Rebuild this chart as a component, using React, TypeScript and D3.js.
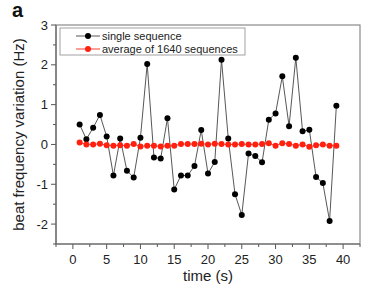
import React from "react";
import * as d3 from "d3";

const times = d3.range(1, 40);
const single = [
  0.5, 0.13, 0.42, 0.74, 0.2, -0.78, 0.15, -0.66, -0.83, 0.17,
  2.02, -0.33, -0.35, 0.66, -1.13, -0.78, -0.78, -0.54, 0.36, -0.73,
  -0.44, 2.13, 0.15, -1.25, -1.77, -0.23, -0.29, -0.45, 0.62, 0.78,
  1.71, 0.46, 2.18, 0.33, 0.37, -0.82, -0.97, -1.92, 0.97,
];
const average = [
  0.05, 0.0, 0.0, 0.02, -0.02, -0.03, -0.02, -0.03, 0.01, -0.05,
  -0.03, -0.03, -0.05, -0.03, -0.03, 0.01, 0.01, 0.01, 0.02, 0.0,
  0.02, 0.01, 0.0, 0.0, 0.01, 0.0, 0.0, 0.01, 0.03, -0.03,
  0.03, 0.01, -0.03, 0.0, -0.06, -0.02, 0.0, -0.03, -0.03,
];
const xTicks = [0, 5, 10, 15, 20, 25, 30, 35, 40];
const yTicks = [-2, -1, 0, 1, 2, 3];
const legendLabels = ["single sequence", "average of 1640 sequences"];

const font = "Arial, 'Liberation Sans', sans-serif";

export default function App() {
  const width = 382;
  const height = 295;
  const margin = { top: 25, right: 22, bottom: 51, left: 56 };
  const innerWidth = width - margin.left - margin.right;
  const innerHeight = height - margin.top - margin.bottom;

  const x = d3.scaleLinear().domain([-2.5, 42.5]).range([0, innerWidth]);
  const y = d3.scaleLinear().domain([-2.5, 3]).range([innerHeight, 0]);

  const line = d3
    .line<number>()
    .x((_, i) => x(times[i]))
    .y((d) => y(d));

  const xMinor = d3.range(-2.5, 42.6, 2.5).filter((v) => v % 5 !== 0);
  const yMinor = d3.range(-2.5, 3, 0.5).filter((v) => v % 1 !== 0);

  return (
    <svg
      width={width}
      height={height}
      style={{ position: "absolute", left: 0, top: 0 }}
      fontFamily={font}
    >
      <rect width={width} height={height} fill="#fff" />
      <text x={12} y={17} fontSize={20} fontWeight="bold" fill="#111">
        a
      </text>
      <g transform={`translate(${margin.left},${margin.top})`}>
        <rect
          x={0}
          y={0}
          width={innerWidth}
          height={innerHeight}
          fill="none"
          stroke="#8a8a8a"
          strokeWidth={1.2}
        />
        {/* x axis ticks */}
        {xTicks.map((t) => (
          <g key={t} transform={`translate(${x(t)},${innerHeight})`}>
            <line y2={5} stroke="#555" />
            <text y={20} textAnchor="middle" fontSize={13} fill="#222">
              {t}
            </text>
          </g>
        ))}
        {xMinor.map((t) => (
          <line
            key={t}
            x1={x(t)}
            x2={x(t)}
            y1={innerHeight}
            y2={innerHeight + 3}
            stroke="#555"
          />
        ))}
        {/* y axis ticks */}
        {yTicks.map((t) => (
          <g key={t} transform={`translate(0,${y(t)})`}>
            <line x2={-5} stroke="#555" />
            <text x={-8} dy="0.35em" textAnchor="end" fontSize={13} fill="#222">
              {t}
            </text>
          </g>
        ))}
        {yMinor.map((t) => (
          <line key={t} x1={0} x2={-3} y1={y(t)} y2={y(t)} stroke="#555" />
        ))}
        <line x1={0} x2={innerWidth} y1={innerHeight} y2={innerHeight} stroke="#666" strokeWidth={1.2} />
        <line x1={0} x2={0} y1={0} y2={innerHeight} stroke="#666" strokeWidth={1.2} />

        {/* series */}
        <path d={line(single) ?? ""} fill="none" stroke="#444" strokeWidth={0.9} />
        {single.map((v, i) => (
          <circle key={i} cx={x(times[i])} cy={y(v)} r={3} fill="#000" />
        ))}
        <path d={line(average) ?? ""} fill="none" stroke="#ff2a1a" strokeWidth={0.9} />
        {average.map((v, i) => (
          <circle key={i} cx={x(times[i])} cy={y(v)} r={3} fill="#ff2010" />
        ))}

        {/* legend */}
        <g transform="translate(4,3)">
          <rect
            x={0}
            y={0}
            width={185}
            height={27}
            fill="#fff"
            stroke="#8a8a8a"
            strokeWidth={0.8}
          />
          {legendLabels.map((label, i) => (
            <g key={label} transform={`translate(0,${8 + i * 13})`}>
              <line
                x1={16}
                x2={40}
                stroke={i === 0 ? "#444" : "#ff2a1a"}
                strokeWidth={0.9}
              />
              <circle cx={28} cy={0} r={3} fill={i === 0 ? "#000" : "#ff2010"} />
              <text x={42} dy="0.35em" fontSize={11} fill="#222">
                {label}
              </text>
            </g>
          ))}
        </g>
      </g>
      <text
        x={margin.left + x(20)}
        y={281}
        textAnchor="middle"
        fontSize={15}
        fill="#222"
      >
        time (s)
      </text>
      <text
        transform={`translate(24,${margin.top + innerHeight / 2}) rotate(-90)`}
        textAnchor="middle"
        fontSize={15}
        fill="#222"
      >
        beat frequency variation (Hz)
      </text>
    </svg>
  );
}
